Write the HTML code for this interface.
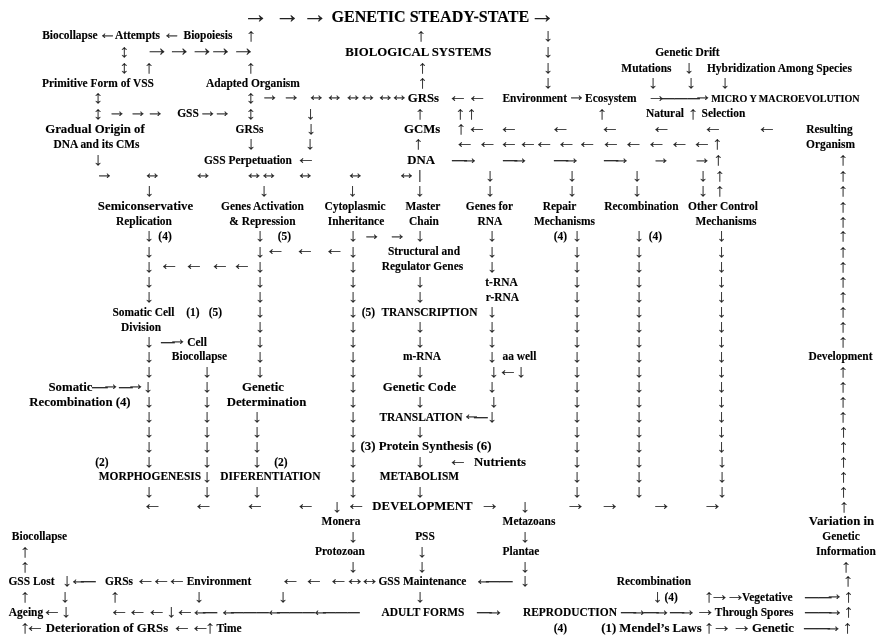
<!DOCTYPE html>
<html lang="en"><head><meta charset="utf-8"><title>Genetic Steady-State</title><style>
html,body{margin:0;padding:0;background:#fff;}
#c{position:relative;width:883px;height:641px;overflow:hidden;background:#fff;font-family:"Liberation Serif",serif;filter:blur(0.4px);}
#c span{position:absolute;white-space:pre;line-height:1;display:block;}
.t{font-weight:bold;color:#000;-webkit-text-stroke:0.12px #000;}
.n{font-size:11.45px}.b{font-size:12.8px}.s{font-size:10.1px}.tt{font-size:16.1px}
.a{color:#222;font-weight:normal;-webkit-text-stroke:0.15px currentColor;}
.h{font-size:20.3px}.g{font-size:18.1px}
.v{-webkit-text-stroke-width:0.08px;font-size:20.3px;transform:scaleY(0.9);transform-origin:50% 17px;}
.d{color:#222;font-weight:normal;font-size:20px;transform-origin:0 50%;-webkit-text-stroke:0.05px currentColor;}
.bar{color:#222;font-weight:bold;font-size:12px;-webkit-text-stroke:0.2px currentColor;}
</style></head><body><div id="c">
<span class="a" style="left:243.03px;top:2px;font-size:25.35px;">→</span>
<span class="a" style="left:274.73px;top:2px;font-size:25.35px;">→</span>
<span class="a" style="left:302.33px;top:2px;font-size:25.35px;">→</span>
<span class="t tt" style="left:331.4px;top:9px;">GENETIC STEADY-STATE</span>
<span class="a" style="left:529.83px;top:2px;font-size:25.35px;">→</span>
<span class="t n" style="left:42.18px;top:30px;">Biocollapse</span>
<span class="a g" style="left:98.2px;top:24px;">←</span>
<span class="t n" style="left:114.92px;top:30px;">Attempts</span>
<span class="a g" style="left:162.45px;top:24px;">←</span>
<span class="t n" style="left:183.5px;top:30px;">Biopoiesis</span>
<span class="a v" style="left:245.93px;top:24px;">↑</span>
<span class="a v" style="left:415.93px;top:24px;">↑</span>
<span class="a v" style="left:542.92px;top:24px;">↓</span>
<span class="a v" style="left:119.22px;top:40px;">↕</span>
<span class="a" style="left:144.85px;top:36px;font-size:24.5px;">→</span>
<span class="a" style="left:166.9px;top:36px;font-size:24.5px;">→</span>
<span class="a" style="left:189.65px;top:36px;font-size:24.5px;">→</span>
<span class="a" style="left:208.15px;top:36px;font-size:24.5px;">→</span>
<span class="a" style="left:231.15px;top:36px;font-size:24.5px;">→</span>
<span class="t b" style="left:345.31px;top:46px;">BIOLOGICAL SYSTEMS</span>
<span class="a v" style="left:542.92px;top:40px;">↓</span>
<span class="t n" style="left:655.23px;top:47px;">Genetic Drift</span>
<span class="a v" style="left:119.22px;top:56px;">↕</span>
<span class="a v" style="left:144.12px;top:56px;">↑</span>
<span class="a v" style="left:245.73px;top:56px;">↑</span>
<span class="a v" style="left:417.43px;top:56px;">↑</span>
<span class="a v" style="left:542.92px;top:56px;">↓</span>
<span class="t n" style="left:621.37px;top:63px;">Mutations</span>
<span class="a v" style="left:683.92px;top:56px;">↓</span>
<span class="t n" style="left:706.98px;top:63px;">Hybridization Among Species</span>
<span class="t n" style="left:41.98px;top:78px;">Primitive Form of VSS</span>
<span class="t n" style="left:206.08px;top:78px;">Adapted Organism</span>
<span class="a v" style="left:417.43px;top:71px;">↑</span>
<span class="a v" style="left:542.92px;top:71px;">↓</span>
<span class="a v" style="left:647.92px;top:71px;">↓</span>
<span class="a v" style="left:685.92px;top:71px;">↓</span>
<span class="a v" style="left:719.92px;top:71px;">↓</span>
<span class="a v" style="left:92.92px;top:86px;">↕</span>
<span class="a v" style="left:245.73px;top:86px;">↕</span>
<span class="a g" style="left:260.6px;top:86px;">→</span>
<span class="a g" style="left:281.9px;top:86px;">→</span>
<span class="a g" style="left:306.9px;top:86px;">↔</span>
<span class="a g" style="left:325.1px;top:86px;">↔</span>
<span class="a g" style="left:343.8px;top:86px;">↔</span>
<span class="a g" style="left:358.5px;top:86px;">↔</span>
<span class="a g" style="left:376.1px;top:86px;">↔</span>
<span class="a g" style="left:390.1px;top:86px;">↔</span>
<span class="t b" style="left:407.7px;top:92px;">GRSs</span>
<span class="a h" style="left:447.85px;top:85px;">←</span>
<span class="a h" style="left:466.95px;top:85px;">←</span>
<span class="t n" style="left:502.41px;top:93px;">Environment</span>
<span class="a g" style="left:567.25px;top:86px;">→</span>
<span class="t n" style="left:585.04px;top:93px;">Ecosystem</span>
<span class="a h" style="left:646.85px;top:85px;">→</span>
<span class="a g" style="left:693.6px;top:86px;">→</span>
<span class="d" style="left:662.09px;top:87px;transform:scaleX(0.6288);">———</span>
<span class="t s" style="left:711.35px;top:94px;">MICRO Y MACROEVOLUTION</span>
<span class="a v" style="left:92.92px;top:102px;">↕</span>
<span class="a g" style="left:107.7px;top:102px;">→</span>
<span class="a g" style="left:128.7px;top:102px;">→</span>
<span class="a g" style="left:146.1px;top:102px;">→</span>
<span class="t n" style="left:177.18px;top:108px;">GSS</span>
<span class="a g" style="left:198.45px;top:102px;">→</span>
<span class="a g" style="left:212.9px;top:102px;">→</span>
<span class="a v" style="left:245.73px;top:102px;">↕</span>
<span class="a v" style="left:305.43px;top:102px;">↓</span>
<span class="a v" style="left:415.12px;top:102px;">↑</span>
<span class="a v" style="left:455.32px;top:102px;">↑</span>
<span class="a v" style="left:466.53px;top:102px;">↑</span>
<span class="a v" style="left:596.92px;top:102px;">↑</span>
<span class="t n" style="left:645.92px;top:108px;">Natural</span>
<span class="a v" style="left:687.92px;top:102px;">↑</span>
<span class="t n" style="left:701.56px;top:108px;">Selection</span>
<span class="t b" style="left:45.22px;top:123px;">Gradual Origin of</span>
<span class="t n" style="left:235.5px;top:124px;">GRSs</span>
<span class="a v" style="left:305.93px;top:117px;">↓</span>
<span class="t b" style="left:404.07px;top:123px;">GCMs</span>
<span class="a v" style="left:455.93px;top:117px;">↑</span>
<span class="a h" style="left:466.65px;top:116px;">←</span>
<span class="a h" style="left:498.85px;top:116px;">←</span>
<span class="a h" style="left:550.2px;top:116px;">←</span>
<span class="a h" style="left:599.85px;top:116px;">←</span>
<span class="a h" style="left:651.35px;top:116px;">←</span>
<span class="a h" style="left:702.85px;top:116px;">←</span>
<span class="a h" style="left:756.85px;top:116px;">←</span>
<span class="t n" style="left:806.28px;top:124px;">Resulting</span>
<span class="t n" style="left:53.4px;top:139px;">DNA and its CMs</span>
<span class="a v" style="left:245.93px;top:132px;">↓</span>
<span class="a v" style="left:304.93px;top:132px;">↓</span>
<span class="a v" style="left:413.23px;top:132px;">↑</span>
<span class="a h" style="left:454.45px;top:131px;">←</span>
<span class="a h" style="left:477.15px;top:131px;">←</span>
<span class="a h" style="left:498.85px;top:131px;">←</span>
<span class="a h" style="left:517.75px;top:131px;">←</span>
<span class="a h" style="left:534.05px;top:131px;">←</span>
<span class="a h" style="left:556.15px;top:131px;">←</span>
<span class="a h" style="left:577.1px;top:131px;">←</span>
<span class="a h" style="left:600.85px;top:131px;">←</span>
<span class="a h" style="left:623.35px;top:131px;">←</span>
<span class="a h" style="left:646.35px;top:131px;">←</span>
<span class="a h" style="left:669.35px;top:131px;">←</span>
<span class="a h" style="left:691.85px;top:131px;">←</span>
<span class="a v" style="left:712.22px;top:132px;">↑</span>
<span class="t n" style="left:806.01px;top:139px;">Organism</span>
<span class="a v" style="left:92.92px;top:148px;">↓</span>
<span class="t n" style="left:203.95px;top:155px;">GSS Perpetuation</span>
<span class="a h" style="left:295.85px;top:147px;">←</span>
<span class="t b" style="left:407.18px;top:154px;">DNA</span>
<span class="a g" style="left:460.2px;top:149px;">→</span>
<span class="d" style="left:451.5px;top:149px;transform:scaleX(0.7449);">—</span>
<span class="a g" style="left:510.6px;top:149px;">→</span>
<span class="d" style="left:502.6px;top:149px;transform:scaleX(0.7103);">—</span>
<span class="a g" style="left:562px;top:149px;">→</span>
<span class="d" style="left:554px;top:149px;transform:scaleX(0.7103);">—</span>
<span class="a g" style="left:612.1px;top:149px;">→</span>
<span class="d" style="left:604.1px;top:149px;transform:scaleX(0.7103);">—</span>
<span class="a g" style="left:651.8px;top:149px;">→</span>
<span class="a g" style="left:692.75px;top:149px;">→</span>
<span class="a v" style="left:713.32px;top:148px;">↑</span>
<span class="a v" style="left:837.92px;top:148px;">↑</span>
<span class="a g" style="left:95.35px;top:164px;">→</span>
<span class="a g" style="left:142.9px;top:164px;">↔</span>
<span class="a g" style="left:193.85px;top:164px;">↔</span>
<span class="a g" style="left:244.85px;top:164px;">↔</span>
<span class="a g" style="left:259.55px;top:164px;">↔</span>
<span class="a g" style="left:295.9px;top:164px;">↔</span>
<span class="a g" style="left:346.1px;top:164px;">↔</span>
<span class="a g" style="left:397.25px;top:164px;">↔</span>
<span class="bar" style="left:418.48px;top:169px;">|</span>
<span class="a v" style="left:484.93px;top:164px;">↓</span>
<span class="a v" style="left:566.92px;top:164px;">↓</span>
<span class="a v" style="left:631.92px;top:164px;">↓</span>
<span class="a v" style="left:697.92px;top:164px;">↓</span>
<span class="a v" style="left:714.72px;top:164px;">↑</span>
<span class="a v" style="left:837.92px;top:164px;">↑</span>
<span class="a v" style="left:144.23px;top:179px;">↓</span>
<span class="a v" style="left:258.93px;top:179px;">↓</span>
<span class="a v" style="left:347.62px;top:179px;">↓</span>
<span class="a v" style="left:414.73px;top:179px;">↓</span>
<span class="a v" style="left:484.93px;top:179px;">↓</span>
<span class="a v" style="left:566.92px;top:179px;">↓</span>
<span class="a v" style="left:631.92px;top:179px;">↓</span>
<span class="a v" style="left:697.92px;top:179px;">↓</span>
<span class="a v" style="left:714.72px;top:179px;">↑</span>
<span class="a v" style="left:837.92px;top:179px;">↑</span>
<span class="t b" style="left:97.87px;top:200px;">Semiconservative</span>
<span class="t n" style="left:221px;top:201px;">Genes Activation</span>
<span class="t n" style="left:324.47px;top:201px;">Cytoplasmic</span>
<span class="t n" style="left:405.52px;top:201px;">Master</span>
<span class="t n" style="left:465.81px;top:201px;">Genes for</span>
<span class="t n" style="left:542.65px;top:201px;">Repair</span>
<span class="t n" style="left:604.29px;top:201px;">Recombination</span>
<span class="t n" style="left:688.07px;top:201px;">Other Control</span>
<span class="a v" style="left:837.92px;top:195px;">↑</span>
<span class="t n" style="left:116.01px;top:216px;">Replication</span>
<span class="t n" style="left:229.37px;top:216px;">&amp; Repression</span>
<span class="t n" style="left:327.7px;top:216px;">Inheritance</span>
<span class="t n" style="left:409.04px;top:216px;">Chain</span>
<span class="t n" style="left:477.6px;top:216px;">RNA</span>
<span class="t n" style="left:533.97px;top:216px;">Mechanisms</span>
<span class="t n" style="left:695.47px;top:216px;">Mechanisms</span>
<span class="a v" style="left:837.92px;top:210px;">↑</span>
<span class="a v" style="left:143.93px;top:224px;">↓</span>
<span class="t n" style="left:158.37px;top:231px;">(4)</span>
<span class="a v" style="left:254.93px;top:224px;">↓</span>
<span class="t n" style="left:277.82px;top:231px;">(5)</span>
<span class="a v" style="left:347.93px;top:224px;">↓</span>
<span class="a g" style="left:362.4px;top:225px;">→</span>
<span class="a g" style="left:388.1px;top:225px;">→</span>
<span class="a v" style="left:414.93px;top:224px;">↓</span>
<span class="a v" style="left:486.93px;top:224px;">↓</span>
<span class="t n" style="left:553.82px;top:231px;">(4)</span>
<span class="a v" style="left:571.92px;top:224px;">↓</span>
<span class="a v" style="left:633.92px;top:224px;">↓</span>
<span class="t n" style="left:648.82px;top:231px;">(4)</span>
<span class="a v" style="left:716.42px;top:224px;">↓</span>
<span class="a v" style="left:837.92px;top:224px;">↑</span>
<span class="a v" style="left:143.93px;top:240px;">↓</span>
<span class="a v" style="left:254.93px;top:240px;">↓</span>
<span class="a h" style="left:265.35px;top:238px;">←</span>
<span class="a h" style="left:294.85px;top:238px;">←</span>
<span class="a h" style="left:324.35px;top:238px;">←</span>
<span class="a v" style="left:347.93px;top:240px;">↓</span>
<span class="t n" style="left:387.9px;top:246px;">Structural and</span>
<span class="a v" style="left:486.93px;top:240px;">↓</span>
<span class="a v" style="left:571.92px;top:240px;">↓</span>
<span class="a v" style="left:633.92px;top:240px;">↓</span>
<span class="a v" style="left:716.42px;top:240px;">↓</span>
<span class="a v" style="left:837.92px;top:240px;">↑</span>
<span class="a v" style="left:143.93px;top:255px;">↓</span>
<span class="a h" style="left:158.9px;top:253px;">←</span>
<span class="a h" style="left:183.85px;top:253px;">←</span>
<span class="a h" style="left:209.85px;top:253px;">←</span>
<span class="a h" style="left:231.85px;top:253px;">←</span>
<span class="a v" style="left:254.93px;top:255px;">↓</span>
<span class="a v" style="left:347.93px;top:255px;">↓</span>
<span class="t n" style="left:381.74px;top:261px;">Regulator Genes</span>
<span class="a v" style="left:486.93px;top:255px;">↓</span>
<span class="a v" style="left:571.92px;top:255px;">↓</span>
<span class="a v" style="left:633.92px;top:255px;">↓</span>
<span class="a v" style="left:716.42px;top:255px;">↓</span>
<span class="a v" style="left:837.92px;top:255px;">↑</span>
<span class="a v" style="left:143.93px;top:270px;">↓</span>
<span class="a v" style="left:254.93px;top:270px;">↓</span>
<span class="a v" style="left:347.93px;top:270px;">↓</span>
<span class="a v" style="left:414.93px;top:270px;">↓</span>
<span class="a v" style="left:571.92px;top:270px;">↓</span>
<span class="a v" style="left:633.92px;top:270px;">↓</span>
<span class="a v" style="left:716.42px;top:270px;">↓</span>
<span class="t n" style="left:485.28px;top:277px;">t-RNA</span>
<span class="a v" style="left:837.92px;top:270px;">↑</span>
<span class="a v" style="left:143.93px;top:285px;">↓</span>
<span class="a v" style="left:254.93px;top:285px;">↓</span>
<span class="a v" style="left:347.93px;top:285px;">↓</span>
<span class="a v" style="left:414.93px;top:285px;">↓</span>
<span class="a v" style="left:571.92px;top:285px;">↓</span>
<span class="a v" style="left:633.92px;top:285px;">↓</span>
<span class="a v" style="left:716.42px;top:285px;">↓</span>
<span class="t n" style="left:485.86px;top:292px;">r-RNA</span>
<span class="a v" style="left:837.92px;top:285px;">↑</span>
<span class="t n" style="left:112.5px;top:307px;">Somatic Cell</span>
<span class="t n" style="left:186.32px;top:307px;">(1)</span>
<span class="t n" style="left:208.82px;top:307px;">(5)</span>
<span class="t n" style="left:361.82px;top:307px;">(5)</span>
<span class="t n" style="left:381.47px;top:307px;">TRANSCRIPTION</span>
<span class="a v" style="left:254.93px;top:300px;">↓</span>
<span class="a v" style="left:347.93px;top:300px;">↓</span>
<span class="a v" style="left:486.93px;top:300px;">↓</span>
<span class="a v" style="left:571.92px;top:300px;">↓</span>
<span class="a v" style="left:633.92px;top:300px;">↓</span>
<span class="a v" style="left:716.42px;top:300px;">↓</span>
<span class="a v" style="left:837.92px;top:300px;">↑</span>
<span class="t n" style="left:120.96px;top:322px;">Division</span>
<span class="a v" style="left:254.93px;top:315px;">↓</span>
<span class="a v" style="left:347.93px;top:315px;">↓</span>
<span class="a v" style="left:414.93px;top:315px;">↓</span>
<span class="a v" style="left:486.93px;top:315px;">↓</span>
<span class="a v" style="left:571.92px;top:315px;">↓</span>
<span class="a v" style="left:633.92px;top:315px;">↓</span>
<span class="a v" style="left:716.42px;top:315px;">↓</span>
<span class="a v" style="left:837.92px;top:315px;">↑</span>
<span class="a v" style="left:143.93px;top:330px;">↓</span>
<span class="a g" style="left:168.6px;top:330px;">→</span>
<span class="d" style="left:161.09px;top:331px;transform:scaleX(0.6857);">—</span>
<span class="t n" style="left:187.14px;top:337px;">Cell</span>
<span class="a v" style="left:254.93px;top:330px;">↓</span>
<span class="a v" style="left:347.93px;top:330px;">↓</span>
<span class="a v" style="left:414.93px;top:330px;">↓</span>
<span class="a v" style="left:486.93px;top:330px;">↓</span>
<span class="a v" style="left:571.92px;top:330px;">↓</span>
<span class="a v" style="left:633.92px;top:330px;">↓</span>
<span class="a v" style="left:716.42px;top:330px;">↓</span>
<span class="a v" style="left:837.92px;top:330px;">↑</span>
<span class="a v" style="left:143.93px;top:345px;">↓</span>
<span class="t n" style="left:171.83px;top:351px;">Biocollapse</span>
<span class="a v" style="left:254.93px;top:345px;">↓</span>
<span class="a v" style="left:347.93px;top:345px;">↓</span>
<span class="t n" style="left:402.92px;top:351px;">m-RNA</span>
<span class="a v" style="left:486.93px;top:345px;">↓</span>
<span class="t n" style="left:502.49px;top:351px;">aa well</span>
<span class="a v" style="left:571.92px;top:345px;">↓</span>
<span class="a v" style="left:633.92px;top:345px;">↓</span>
<span class="a v" style="left:716.42px;top:345px;">↓</span>
<span class="t n" style="left:808.38px;top:351px;">Development</span>
<span class="a v" style="left:143.93px;top:360px;">↓</span>
<span class="a v" style="left:201.93px;top:360px;">↓</span>
<span class="a v" style="left:254.93px;top:360px;">↓</span>
<span class="a v" style="left:347.93px;top:360px;">↓</span>
<span class="a v" style="left:414.93px;top:360px;">↓</span>
<span class="a v" style="left:488.82px;top:360px;">↓</span>
<span class="a v" style="left:571.92px;top:360px;">↓</span>
<span class="a v" style="left:633.92px;top:360px;">↓</span>
<span class="a v" style="left:716.42px;top:360px;">↓</span>
<span class="a h" style="left:497.85px;top:359px;">←</span>
<span class="a v" style="left:515.92px;top:360px;">↓</span>
<span class="a v" style="left:837.92px;top:360px;">↑</span>
<span class="t b" style="left:48.46px;top:381px;">Somatic</span>
<span class="a g" style="left:101.6px;top:375px;">→</span>
<span class="d" style="left:92.11px;top:376px;transform:scaleX(0.7843);">—</span>
<span class="a g" style="left:126.6px;top:375px;">→</span>
<span class="d" style="left:119.09px;top:376px;transform:scaleX(0.6857);">—</span>
<span class="a v" style="left:142.93px;top:375px;">↓</span>
<span class="a v" style="left:201.93px;top:375px;">↓</span>
<span class="t b" style="left:242.03px;top:381px;">Genetic</span>
<span class="a v" style="left:347.93px;top:375px;">↓</span>
<span class="t b" style="left:382.71px;top:381px;">Genetic Code</span>
<span class="a v" style="left:486.93px;top:375px;">↓</span>
<span class="a v" style="left:571.92px;top:375px;">↓</span>
<span class="a v" style="left:633.92px;top:375px;">↓</span>
<span class="a v" style="left:716.42px;top:375px;">↓</span>
<span class="a v" style="left:837.92px;top:375px;">↑</span>
<span class="t b" style="left:29.34px;top:396px;">Recombination (4)</span>
<span class="a v" style="left:143.93px;top:390px;">↓</span>
<span class="a v" style="left:201.93px;top:390px;">↓</span>
<span class="t b" style="left:226.69px;top:396px;">Determination</span>
<span class="a v" style="left:347.93px;top:390px;">↓</span>
<span class="a v" style="left:414.93px;top:390px;">↓</span>
<span class="a v" style="left:488.82px;top:390px;">↓</span>
<span class="a v" style="left:571.92px;top:390px;">↓</span>
<span class="a v" style="left:633.92px;top:390px;">↓</span>
<span class="a v" style="left:716.42px;top:390px;">↓</span>
<span class="a v" style="left:837.92px;top:390px;">↑</span>
<span class="a v" style="left:143.93px;top:405px;">↓</span>
<span class="a v" style="left:201.93px;top:405px;">↓</span>
<span class="a v" style="left:251.93px;top:405px;">↓</span>
<span class="a v" style="left:347.93px;top:405px;">↓</span>
<span class="a v" style="left:486.93px;top:405px;">↓</span>
<span class="a v" style="left:571.92px;top:405px;">↓</span>
<span class="a v" style="left:633.92px;top:405px;">↓</span>
<span class="a v" style="left:716.42px;top:405px;">↓</span>
<span class="t n" style="left:379.43px;top:412px;">TRANSLATION</span>
<span class="a g" style="left:462.3px;top:405px;">←</span>
<span class="d" style="left:474.19px;top:406px;transform:scaleX(0.6857);">—</span>
<span class="a v" style="left:837.92px;top:405px;">↑</span>
<span class="a v" style="left:143.93px;top:420px;">↓</span>
<span class="a v" style="left:201.93px;top:420px;">↓</span>
<span class="a v" style="left:251.93px;top:420px;">↓</span>
<span class="a v" style="left:347.93px;top:420px;">↓</span>
<span class="a v" style="left:414.93px;top:420px;">↓</span>
<span class="a v" style="left:571.92px;top:420px;">↓</span>
<span class="a v" style="left:633.92px;top:420px;">↓</span>
<span class="a v" style="left:716.42px;top:420px;">↓</span>
<span class="a v" style="left:838.42px;top:420px;">↑</span>
<span class="a v" style="left:143.93px;top:435px;">↓</span>
<span class="a v" style="left:201.93px;top:435px;">↓</span>
<span class="a v" style="left:251.93px;top:435px;">↓</span>
<span class="a v" style="left:347.93px;top:435px;">↓</span>
<span class="a v" style="left:571.92px;top:435px;">↓</span>
<span class="a v" style="left:633.92px;top:435px;">↓</span>
<span class="a v" style="left:716.42px;top:435px;">↓</span>
<span class="t b" style="left:360.52px;top:440px;">(3) Protein Synthesis (6)</span>
<span class="a v" style="left:838.42px;top:435px;">↑</span>
<span class="t n" style="left:95.32px;top:457px;">(2)</span>
<span class="t n" style="left:274.32px;top:457px;">(2)</span>
<span class="a v" style="left:143.93px;top:450px;">↓</span>
<span class="a v" style="left:201.93px;top:450px;">↓</span>
<span class="a v" style="left:251.93px;top:450px;">↓</span>
<span class="a v" style="left:347.93px;top:450px;">↓</span>
<span class="a v" style="left:414.93px;top:450px;">↓</span>
<span class="a v" style="left:571.92px;top:450px;">↓</span>
<span class="a v" style="left:633.92px;top:450px;">↓</span>
<span class="a v" style="left:716.92px;top:450px;">↓</span>
<span class="a h" style="left:447.85px;top:449px;">←</span>
<span class="t b" style="left:474.05px;top:456px;">Nutrients</span>
<span class="a v" style="left:838.42px;top:450px;">↑</span>
<span class="t n" style="left:98.78px;top:471px;">MORPHOGENESIS</span>
<span class="a v" style="left:201.93px;top:465px;">↓</span>
<span class="t n" style="left:220.34px;top:471px;">DIFERENTIATION</span>
<span class="a v" style="left:347.93px;top:465px;">↓</span>
<span class="t n" style="left:379.84px;top:471px;">METABOLISM</span>
<span class="a v" style="left:571.92px;top:465px;">↓</span>
<span class="a v" style="left:633.92px;top:465px;">↓</span>
<span class="a v" style="left:716.92px;top:465px;">↓</span>
<span class="a v" style="left:838.42px;top:465px;">↑</span>
<span class="a v" style="left:143.93px;top:480px;">↓</span>
<span class="a v" style="left:201.93px;top:480px;">↓</span>
<span class="a v" style="left:251.93px;top:480px;">↓</span>
<span class="a v" style="left:347.93px;top:480px;">↓</span>
<span class="a v" style="left:414.93px;top:480px;">↓</span>
<span class="a v" style="left:571.92px;top:480px;">↓</span>
<span class="a v" style="left:633.92px;top:480px;">↓</span>
<span class="a v" style="left:716.92px;top:480px;">↓</span>
<span class="a v" style="left:838.42px;top:480px;">↑</span>
<span class="a h" style="left:142.25px;top:493px;">←</span>
<span class="a h" style="left:193.25px;top:493px;">←</span>
<span class="a h" style="left:244.85px;top:493px;">←</span>
<span class="a h" style="left:295.55px;top:493px;">←</span>
<span class="a h" style="left:346.05px;top:493px;">←</span>
<span class="a v" style="left:331.93px;top:495px;">↓</span>
<span class="t b" style="left:372.36px;top:500px;">DEVELOPMENT</span>
<span class="a h" style="left:479.85px;top:493px;">→</span>
<span class="a v" style="left:519.92px;top:495px;">↓</span>
<span class="a h" style="left:565.6px;top:493px;">→</span>
<span class="a h" style="left:599.85px;top:493px;">→</span>
<span class="a h" style="left:651.35px;top:493px;">→</span>
<span class="a h" style="left:702.6px;top:493px;">→</span>
<span class="a v" style="left:838.92px;top:495px;">↑</span>
<span class="t n" style="left:321.61px;top:516px;">Monera</span>
<span class="t n" style="left:502.61px;top:516px;">Metazoans</span>
<span class="t b" style="left:808.84px;top:515px;">Variation in</span>
<span class="t n" style="left:11.83px;top:531px;">Biocollapse</span>
<span class="a v" style="left:347.93px;top:525px;">↓</span>
<span class="t n" style="left:415.13px;top:531px;">PSS</span>
<span class="a v" style="left:519.92px;top:525px;">↓</span>
<span class="t n" style="left:822.24px;top:531px;">Genetic</span>
<span class="a v" style="left:19.93px;top:540px;">↑</span>
<span class="t n" style="left:314.98px;top:546px;">Protozoan</span>
<span class="a v" style="left:416.93px;top:540px;">↓</span>
<span class="t n" style="left:502.56px;top:546px;">Plantae</span>
<span class="t n" style="left:816.1px;top:546px;">Information</span>
<span class="a v" style="left:19.93px;top:555px;">↑</span>
<span class="a v" style="left:347.93px;top:555px;">↓</span>
<span class="a v" style="left:416.93px;top:555px;">↓</span>
<span class="a v" style="left:519.92px;top:555px;">↓</span>
<span class="a v" style="left:840.92px;top:555px;">↑</span>
<span class="t n" style="left:8.43px;top:576px;">GSS Lost</span>
<span class="a v" style="left:61.92px;top:569px;">↓</span>
<span class="a g" style="left:69.3px;top:570px;">←</span>
<span class="d" style="left:81.2px;top:570px;transform:scaleX(0.7350);">—</span>
<span class="t n" style="left:105px;top:576px;">GRSs</span>
<span class="a h" style="left:135.35px;top:568px;">←</span>
<span class="a h" style="left:151.1px;top:568px;">←</span>
<span class="a h" style="left:166.85px;top:568px;">←</span>
<span class="t n" style="left:186.66px;top:576px;">Environment</span>
<span class="a h" style="left:280.35px;top:568px;">←</span>
<span class="a h" style="left:303.85px;top:568px;">←</span>
<span class="a h" style="left:328.35px;top:568px;">←</span>
<span class="a h" style="left:344.85px;top:568px;">↔</span>
<span class="a h" style="left:359.6px;top:568px;">↔</span>
<span class="t n" style="left:378.45px;top:576px;">GSS Maintenance</span>
<span class="a g" style="left:474.3px;top:570px;">←</span>
<span class="d" style="left:486.19px;top:570px;transform:scaleX(0.6680);">——</span>
<span class="a v" style="left:519.92px;top:569px;">↓</span>
<span class="t n" style="left:616.79px;top:576px;">Recombination</span>
<span class="a v" style="left:842.92px;top:569px;">↑</span>
<span class="a v" style="left:19.93px;top:585px;">↑</span>
<span class="a v" style="left:59.92px;top:585px;">↓</span>
<span class="a v" style="left:109.92px;top:585px;">↑</span>
<span class="a v" style="left:193.93px;top:585px;">↓</span>
<span class="a v" style="left:277.93px;top:585px;">↓</span>
<span class="a v" style="left:414.93px;top:585px;">↓</span>
<span class="a v" style="left:652.42px;top:585px;">↓</span>
<span class="t n" style="left:664.47px;top:592px;">(4)</span>
<span class="a v" style="left:703.92px;top:585px;">↑</span>
<span class="a h" style="left:709.45px;top:584px;">→</span>
<span class="a h" style="left:725.55px;top:584px;">→</span>
<span class="t n" style="left:742.08px;top:592px;">Vegetative</span>
<span class="a g" style="left:824.9px;top:585px;">→</span>
<span class="d" style="left:804.59px;top:586px;transform:scaleX(0.6630);">——</span>
<span class="a v" style="left:843.42px;top:585px;">↑</span>
<span class="t n" style="left:8.83px;top:607px;">Ageing</span>
<span class="a h" style="left:41.85px;top:599px;">←</span>
<span class="a v" style="left:60.92px;top:600px;">↓</span>
<span class="a h" style="left:108.9px;top:599px;">←</span>
<span class="a h" style="left:127.35px;top:599px;">←</span>
<span class="a h" style="left:146.6px;top:599px;">←</span>
<span class="a v" style="left:166.33px;top:600px;">↓</span>
<span class="a h" style="left:174.85px;top:599px;">←</span>
<span class="a g" style="left:190.8px;top:601px;">←</span>
<span class="d" style="left:202.7px;top:601px;transform:scaleX(0.7103);">—</span>
<span class="a g" style="left:219.3px;top:601px;">←</span>
<span class="d" style="left:231.19px;top:601px;transform:scaleX(0.6288);">———</span>
<span class="a g" style="left:265.3px;top:601px;">←</span>
<span class="d" style="left:277.19px;top:601px;transform:scaleX(0.6288);">———</span>
<span class="a g" style="left:311.3px;top:601px;">←</span>
<span class="d" style="left:323.18px;top:601px;transform:scaleX(0.6122);">———</span>
<span class="t n" style="left:381.48px;top:607px;">ADULT FORMS</span>
<span class="a g" style="left:485.6px;top:601px;">→</span>
<span class="d" style="left:477.1px;top:601px;transform:scaleX(0.7350);">—</span>
<span class="t n" style="left:522.92px;top:607px;">REPRODUCTION</span>
<span class="a g" style="left:629.6px;top:601px;">→</span>
<span class="d" style="left:620.7px;top:601px;transform:scaleX(0.7547);">—</span>
<span class="a g" style="left:652.6px;top:601px;">→</span>
<span class="d" style="left:644.1px;top:601px;transform:scaleX(0.7350);">—</span>
<span class="a g" style="left:678.1px;top:601px;">→</span>
<span class="d" style="left:670.1px;top:601px;transform:scaleX(0.7103);">—</span>
<span class="a h" style="left:695.15px;top:599px;">→</span>
<span class="t n" style="left:714.8px;top:607px;">Through Spores</span>
<span class="a g" style="left:825.3px;top:601px;">→</span>
<span class="d" style="left:805.09px;top:601px;transform:scaleX(0.6605);">——</span>
<span class="a v" style="left:843.42px;top:600px;">↑</span>
<span class="a v" style="left:19.93px;top:616px;">↑</span>
<span class="a h" style="left:24.85px;top:615px;">←</span>
<span class="t b" style="left:45.86px;top:622px;">Deterioration of GRSs</span>
<span class="a h" style="left:171.85px;top:615px;">←</span>
<span class="a h" style="left:190.35px;top:615px;">←</span>
<span class="a v" style="left:204.93px;top:616px;">↑</span>
<span class="t n" style="left:216.38px;top:623px;">Time</span>
<span class="t n" style="left:553.82px;top:623px;">(4)</span>
<span class="t b" style="left:601.25px;top:622px;">(1) Mendel’s Laws</span>
<span class="a v" style="left:703.92px;top:616px;">↑</span>
<span class="a h" style="left:711.85px;top:615px;">→</span>
<span class="a h" style="left:731.85px;top:615px;">→</span>
<span class="t b" style="left:752.03px;top:622px;">Genetic</span>
<span class="a g" style="left:823.8px;top:617px;">→</span>
<span class="d" style="left:804.09px;top:617px;transform:scaleX(0.6481);">——</span>
<span class="a v" style="left:842.42px;top:616px;">↑</span>
</div></body></html>
